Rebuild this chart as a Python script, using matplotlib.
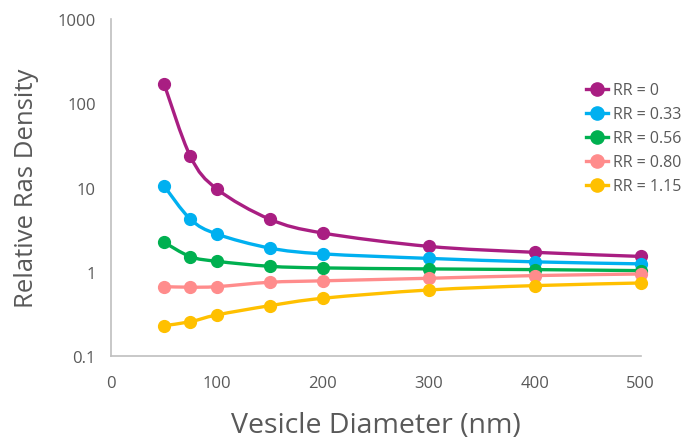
import numpy as np
import matplotlib.pyplot as plt
from matplotlib.path import Path
from matplotlib.patches import PathPatch
from matplotlib.lines import Line2D

# --- Data ---
DIAMETER = [50, 75, 100, 150, 200, 300, 400, 500]
RR_LABELS = ["RR = 0", "RR = 0.33", "RR = 0.56", "RR = 0.80", "RR = 1.15"]
RR_0 = [172, 23.4, 9.6, 4.2, 2.88, 2.0, 1.7, 1.52]
RR_033 = [10.5, 4.2, 2.8, 1.91, 1.63, 1.44, 1.31, 1.24]
RR_056 = [2.24, 1.51, 1.33, 1.16, 1.11, 1.08, 1.06, 1.03]
RR_080 = [0.665, 0.655, 0.665, 0.75, 0.78, 0.836, 0.90, 0.94]
RR_115 = [0.229, 0.255, 0.307, 0.395, 0.484, 0.607, 0.684, 0.735]
SERIES = [RR_0, RR_033, RR_056, RR_080, RR_115]
COLORS = ["#A91E82", "#00B0F0", "#00B050", "#FF8C8C", "#FFC000"]

GRAY = "#595959"
LW = 2.4
MS = 8.5


def smooth_path(x, y):
    '''Excel-style smoothed line: Catmull-Rom bezier through the points, built in (x, log y).'''
    px = np.asarray(x, float)
    py = np.log10(np.asarray(y, float))
    n = len(px)
    verts = [(px[0], py[0])]
    codes = [Path.MOVETO]
    for i in range(n - 1):
        a = max(i - 1, 0)
        b = min(i + 2, n - 1)
        c1 = (px[i] + (px[i + 1] - px[a]) / 6, py[i] + (py[i + 1] - py[a]) / 6)
        c2 = (px[i + 1] - (px[b] - px[i]) / 6, py[i + 1] - (py[b] - py[i]) / 6)
        verts += [c1, c2, (px[i + 1], py[i + 1])]
        codes += [Path.CURVE4] * 3
    verts = [(vx, 10 ** vy) for vx, vy in verts]
    return Path(verts, codes)


plt.rcParams['font.family'] = ['Open Sans', 'DejaVu Sans']

fig = plt.figure(figsize=(6.98, 4.39), dpi=100)
ax = fig.add_axes([0.159, 0.187, 0.759, 0.767])
ax.set_yscale('log')
ax.set_ylim(0.1, 1000)
ax.set_xlim(0, 500)

handles = []
for vals, col, lab in zip(SERIES, COLORS, RR_LABELS):
    patch = PathPatch(smooth_path(DIAMETER, vals), facecolor='none', edgecolor=col,
                      lw=LW, clip_on=False, zorder=3, capstyle='round')
    ax.add_patch(patch)
    ax.plot(DIAMETER, vals, ls='none', marker='o', ms=MS, color=col,
            clip_on=False, zorder=4)
    handles.append(Line2D([], [], color=col, lw=LW, marker='o', ms=MS + 1, label=lab))

ax.set_yticks([0.1, 1, 10, 100, 1000])
ax.set_yticklabels(["0.1", "1", "10", "100", "1000"])
ax.set_xticks([0, 100, 200, 300, 400, 500])
ax.minorticks_off()

for s in ['top', 'right']:
    ax.spines[s].set_visible(False)
for s in ['left', 'bottom']:
    ax.spines[s].set_color('#BFBFBF')
    ax.spines[s].set_linewidth(1.2)

ax.tick_params(axis='y', length=0, pad=11, labelsize=12, labelcolor=GRAY)
ax.tick_params(axis='x', length=0, pad=14, labelsize=12, labelcolor=GRAY)

ax.set_xlabel("Vesicle Diameter (nm)", fontsize=20.5, color=GRAY, labelpad=14)
ax.set_ylabel("Relative Ras Density", fontsize=18.5, color=GRAY, labelpad=13)

fig.legend(handles=handles, loc='upper left', bbox_to_anchor=(0.83, 0.825),
           frameon=False, fontsize=11.5, labelcolor=GRAY, handlelength=1.4,
           handletextpad=0.3, labelspacing=0.5, borderaxespad=0)

fig.savefig("out.png", dpi=100, facecolor='white')
